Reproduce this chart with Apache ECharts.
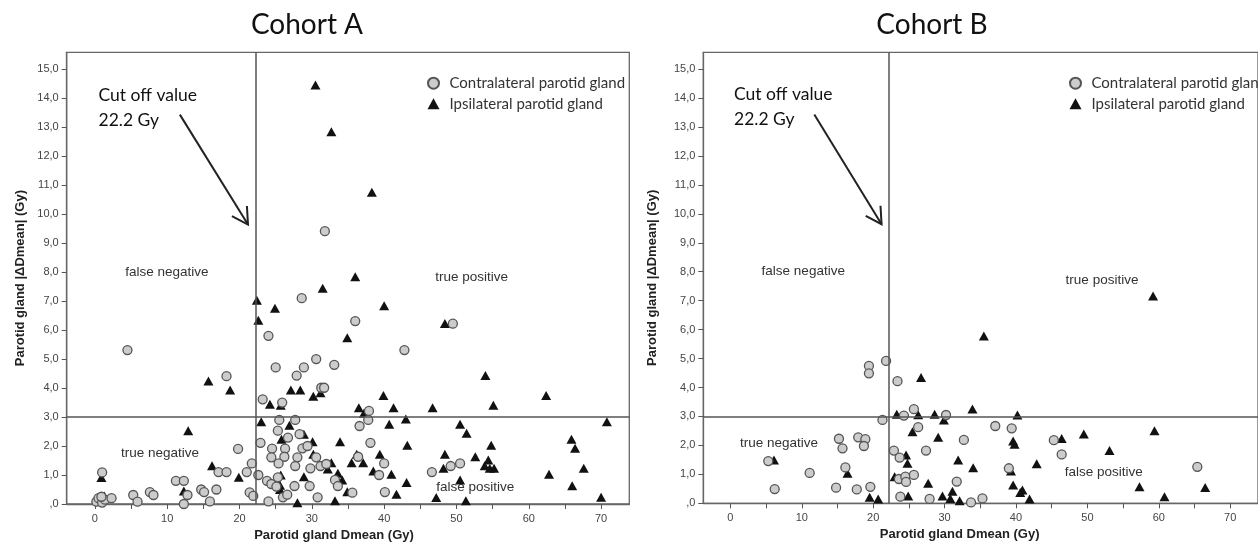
<!DOCTYPE html>
<html>
<head>
<meta charset="utf-8">
<script src="https://cdn.jsdelivr.net/npm/echarts@6/dist/echarts.min.js"></script>
<style>
  html, body { margin: 0; padding: 0; background: #fff; }
  #chart { width: 1258px; height: 551px; }
</style>
</head>
<body>
<div id="chart"></div>
<script>
// tick positions
const xTicks = [0, 5, 10, 15, 20, 25, 30, 35, 40, 45, 50, 55, 60, 65, 70];
const xLabels = [0, 10, 20, 30, 40, 50, 60, 70];
const yTicks = [0, 1, 2, 3, 4, 5, 6, 7, 8, 9, 10, 11, 12, 13, 14, 15];

const cutOff = 22.2;   // Gy
const threshold = 3.0; // Gy

// Cohort A  [Dmean, |dDmean|]
const contraA = [
  [1.0, 1.09], [0.2, 0.08], [0.5, 0.2], [1.0, 0.05], [1.4, 0.15], [2.3, 0.2], [0.9, 0.25],
  [4.5, 5.31], [5.3, 0.31], [5.9, 0.08], [7.6, 0.41], [8.1, 0.31], [11.2, 0.8], [12.3, 0.8],
  [12.8, 0.31], [12.3, 0.0], [14.7, 0.5], [15.1, 0.41], [16.8, 0.5], [15.9, 0.09], [17.1, 1.1],
  [18.2, 1.1], [18.2, 4.41], [19.8, 1.9], [21.0, 1.1], [21.7, 1.4], [21.4, 0.4], [21.9, 0.28],
  [24.0, 5.8], [28.6, 7.1], [31.8, 9.41], [36.0, 6.31], [49.5, 6.22], [42.8, 5.31], [25.0, 4.71],
  [27.9, 4.43], [28.9, 4.71], [30.6, 5.0], [33.1, 4.8], [31.3, 4.01], [31.7, 4.01], [23.2, 3.61],
  [25.9, 3.5], [25.5, 2.9], [27.7, 2.9], [25.3, 2.53], [26.7, 2.29], [28.3, 2.41], [22.9, 2.11],
  [24.5, 1.91], [26.3, 1.91], [24.4, 1.61], [26.2, 1.63], [28.0, 1.61], [28.7, 1.92], [29.4, 2.0],
  [25.4, 1.4], [27.7, 1.31], [29.8, 1.23], [30.6, 1.61], [31.2, 1.31], [32.0, 1.38], [22.6, 1.0],
  [23.8, 0.8], [24.4, 0.69], [25.3, 0.92], [25.1, 0.6], [27.6, 0.62], [29.7, 0.62], [24.0, 0.09],
  [26.0, 0.23], [26.6, 0.32], [30.8, 0.23], [33.2, 0.83], [33.6, 0.62], [35.6, 0.39], [36.4, 1.63],
  [38.1, 2.11], [36.6, 2.69], [37.8, 2.9], [37.9, 3.21], [40.0, 1.4], [39.3, 1.0], [46.6, 1.1],
  [49.2, 1.31], [50.5, 1.4], [40.1, 0.41]
];
const ipsiA = [
  [0.9, 0.91], [0.4, 0.2], [1.3, 0.28], [12.9, 2.53], [12.3, 0.45], [15.7, 4.24], [18.7, 3.93],
  [16.2, 1.32], [19.9, 0.92], [30.5, 14.45], [32.7, 12.84], [38.3, 10.75], [36.0, 7.84], [31.5, 7.44],
  [22.4, 7.03], [24.9, 6.75], [40.0, 6.84], [22.6, 6.34], [48.4, 6.23], [34.9, 5.73], [54.0, 4.43],
  [24.2, 3.44], [25.7, 3.41], [27.1, 3.93], [28.4, 3.93], [30.2, 3.72], [31.2, 3.84], [39.9, 3.74],
  [62.4, 3.74], [36.5, 3.32], [37.2, 3.13], [41.3, 3.32], [46.7, 3.32], [55.1, 3.41], [23.0, 2.84],
  [26.9, 2.72], [25.8, 2.23], [28.9, 2.41], [30.1, 2.15], [33.9, 2.15], [30.2, 1.72], [43.0, 2.93],
  [40.7, 2.75], [50.5, 2.75], [51.4, 2.44], [70.8, 2.84], [43.2, 2.03], [54.8, 2.03], [65.9, 2.23],
  [66.4, 1.92], [36.2, 1.72], [39.4, 1.72], [48.4, 1.72], [52.6, 1.63], [54.4, 1.52], [35.5, 1.42],
  [37.1, 1.42], [32.7, 1.42], [53.9, 1.32], [54.6, 1.23], [55.2, 1.23], [48.2, 1.23], [67.6, 1.23],
  [38.5, 1.14], [41.0, 1.03], [62.8, 1.03], [32.2, 1.21], [33.6, 1.06], [34.2, 0.83], [25.7, 1.0],
  [25.6, 0.65], [25.6, 0.5], [28.9, 0.94], [50.5, 0.83], [43.1, 0.74], [34.9, 0.42], [41.7, 0.34],
  [66.0, 0.63], [47.2, 0.22], [51.3, 0.11], [70.0, 0.23], [33.2, 0.11], [28.0, 0.04]
];

// Cohort B
const contraB = [
  [5.3, 1.46], [6.2, 0.49], [11.1, 1.05], [14.8, 0.54], [15.2, 2.23], [15.7, 1.9], [16.1, 1.24],
  [17.7, 0.48], [17.9, 2.28], [18.9, 2.22], [18.7, 1.98], [19.6, 0.57], [19.4, 4.75], [19.4, 4.49],
  [21.8, 4.92], [21.3, 2.88], [23.4, 4.22], [24.3, 3.03], [25.7, 3.25], [26.3, 2.63], [22.9, 1.82],
  [23.7, 1.58], [27.4, 1.82], [23.6, 0.84], [24.5, 0.92], [24.6, 0.74], [25.7, 0.98], [23.8, 0.23],
  [27.9, 0.15], [30.2, 3.05], [31.7, 0.75], [37.1, 2.67], [39.4, 2.59], [32.7, 2.19], [45.3, 2.18],
  [46.4, 1.69], [39.0, 1.21], [65.4, 1.26], [33.7, 0.03], [35.3, 0.17]
];
const ipsiB = [
  [6.1, 1.5], [16.4, 1.04], [19.5, 0.21], [20.7, 0.15], [26.7, 4.35], [23.3, 3.08], [26.3, 3.06],
  [28.6, 3.08], [29.9, 2.88], [25.5, 2.47], [29.1, 2.28], [24.6, 1.67], [24.8, 1.38], [23.0, 0.92],
  [24.9, 0.25], [27.7, 0.69], [29.7, 0.25], [30.8, 0.17], [59.2, 7.16], [35.5, 5.78], [33.9, 3.26],
  [40.2, 3.05], [46.4, 2.24], [49.5, 2.39], [59.4, 2.51], [39.6, 2.15], [39.8, 2.04], [53.1, 1.82],
  [31.9, 1.5], [34.0, 1.23], [42.9, 1.37], [39.3, 1.12], [39.6, 0.63], [40.9, 0.46], [40.6, 0.37],
  [41.9, 0.15], [57.3, 0.57], [60.8, 0.23], [66.5, 0.55], [31.1, 0.42], [32.1, 0.09]
];

const quadrantText = {
  0: [["false negative", [9.95, 8.0]], ["true positive", [52.1, 7.83]], ["true negative", [9.0, 1.76]], ["false positive", [52.6, 0.57]]],
  1: [["false negative", [10.2, 8.0]], ["true positive", [52.05, 7.71]], ["true negative", [6.8, 2.07]], ["false positive", [52.3, 1.07]]]
};

const CONTRA = "Contralateral parotid gland";
const IPSI = "Ipsilateral parotid gland";

let chart = echarts.init(document.getElementById("chart"));

function xAxisCfg(gi, min, max, padRight) {
  return {
    gridIndex: gi, type: "value", min: min, max: max,
    name: "Parotid gland Dmean (Gy)", nameLocation: "middle", nameGap: 21,
    nameTextStyle: { fontFamily: "Liberation Sans", fontWeight: "bold", fontSize: 13, color: "#222", padding: [0, padRight, 0, 0] },
    axisLine: { show: true, onZero: false, lineStyle: { color: "#666", width: 1.3 } },
    axisTick: { show: true, length: 5, customValues: xTicks, lineStyle: { color: "#555" } },
    axisLabel: { customValues: xLabels, margin: 9, fontFamily: "Liberation Sans", fontSize: 11, color: "#444" },
    splitLine: { show: false }
  };
}
function yAxisCfg(gi, gap) {
  return {
    gridIndex: gi, type: "value", min: 0, max: 15.58,
    name: "Parotid gland |ΔDmean| (Gy)", nameLocation: "middle", nameGap: gap,
    nameTextStyle: { fontFamily: "Liberation Sans", fontWeight: "bold", fontSize: 13, color: "#222" },
    axisLine: { show: true, onZero: false, lineStyle: { color: "#666", width: 1.3 } },
    axisTick: { show: true, length: 5, customValues: yTicks, lineStyle: { color: "#555" } },
    axisLabel: {
      customValues: yTicks, margin: 8, fontFamily: "Liberation Sans", fontSize: 11, color: "#444",
      formatter: function (v) { return v === 0 ? ",0" : v.toFixed(1).replace(".", ","); }
    },
    splitLine: { show: false }
  };
}
function contraSeries(gi, data) {
  return {
    name: CONTRA, type: "scatter", xAxisIndex: gi, yAxisIndex: gi, data: data,
    symbol: "circle", symbolSize: 9, z: 4,
    itemStyle: { color: "#cccccc", borderColor: "#555", borderWidth: 1.3, opacity: 1 }
  };
}
function ipsiSeries(gi, data) {
  return {
    name: IPSI, type: "scatter", xAxisIndex: gi, yAxisIndex: gi, data: data,
    symbol: "triangle", symbolSize: [10, 9], z: 3,
    itemStyle: { color: "#111", opacity: 1 },
    markLine: {
      silent: true, symbol: ["none", "none"], label: { show: false },
      lineStyle: { color: "#555", width: 1.5, type: "solid" },
      emphasis: { disabled: true },
      data: [{ xAxis: cutOff }, { yAxis: threshold }]
    }
  };
}
function legendCfg(left) {
  return {
    left: left, top: 70.7, orient: "vertical", itemWidth: 12, itemHeight: 11, itemGap: 5.6,
    data: [CONTRA, IPSI],
    textStyle: { fontFamily: "Lato", fontSize: 15, color: "#333", lineHeight: 14, padding: [0, 0, 0, 5] }
  };
}

chart.setOption({
  backgroundColor: "#fff",
  animation: false,
  grid: [
    { left: 66.7, top: 52.3, width: 562.6, height: 451.7, show: true, borderColor: "#666", borderWidth: 1.3 },
    { left: 703.3, top: 52.3, width: 567, height: 451, show: true, borderColor: "#666", borderWidth: 1.3 }
  ],
  legend: [legendCfg(422), legendCfg(1064)],
  xAxis: [xAxisCfg(0, -3.9, 73.9, 28), xAxisCfg(1, -3.8, 73.9, 42)],
  yAxis: [yAxisCfg(0, 40), yAxisCfg(1, 44)],
  series: [contraSeries(0, contraA), ipsiSeries(0, ipsiA), contraSeries(1, contraB), ipsiSeries(1, ipsiB)]
});

// titles, quadrant labels and the cut-off arrow, placed through the axes
function pt(gi, p) { return chart.convertToPixel({ gridIndex: gi }, p); }
let graphics = [
  { type: "text", x: 307, y: 25, style: { text: "Cohort A", font: "28px Lato", fill: "#111", align: "center", verticalAlign: "middle" } },
  { type: "text", x: 932, y: 25, style: { text: "Cohort B", font: "28px Lato", fill: "#111", align: "center", verticalAlign: "middle" } }
];
[0, 1].forEach(function (gi) {
  quadrantText[gi].forEach(function (q) {
    let p = pt(gi, q[1]);
    graphics.push({ type: "text", x: p[0], y: p[1], style: { text: q[0], font: "13.5px 'Liberation Sans'", fill: "#333", align: "center", verticalAlign: "middle" } });
  });
  let c = pt(gi, [0.5, 13.68]);
  graphics.push({ type: "text", x: c[0], y: c[1], style: { text: "Cut off value\n22.2 Gy", font: "17.5px Lato", lineHeight: 25, fill: "#111", align: "left", verticalAlign: "middle" } });
  let a = pt(gi, [11.75, 13.43]), tip = pt(gi, [21.17, 9.64]);
  let h1 = pt(gi, [18.95, 9.93]), h2 = pt(gi, [21.02, 10.28]);
  graphics.push({ type: "line", shape: { x1: a[0], y1: a[1], x2: tip[0], y2: tip[1] }, style: { stroke: "#222", lineWidth: 2 } });
  graphics.push({ type: "polyline", shape: { points: [h1, tip, h2] }, style: { stroke: "#222", lineWidth: 2, fill: null } });
});
chart.setOption({ graphic: graphics });
</script>
</body>
</html>
